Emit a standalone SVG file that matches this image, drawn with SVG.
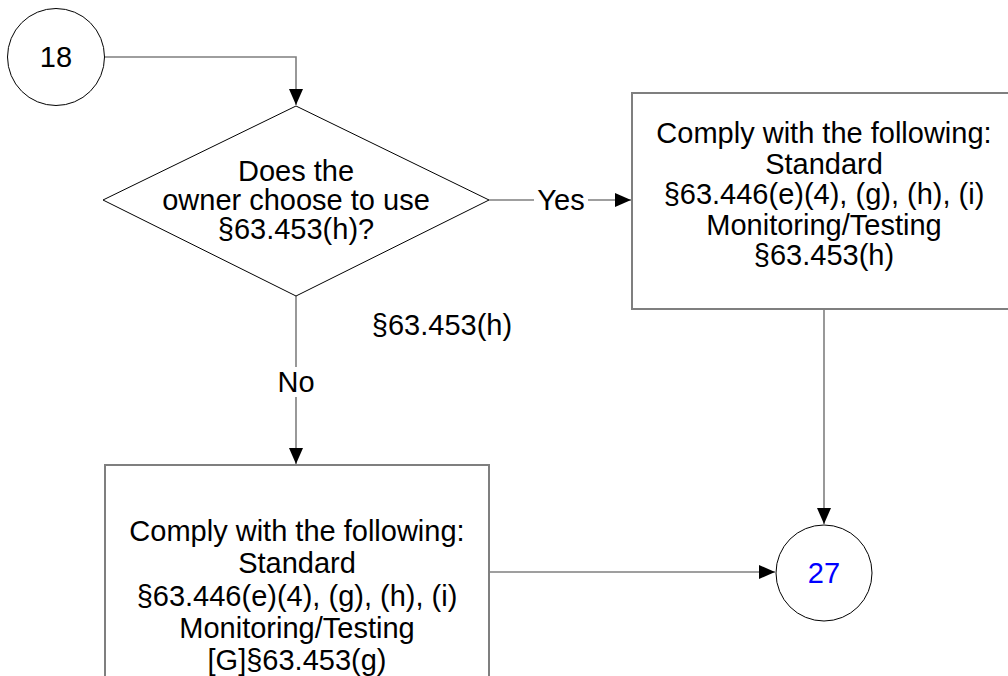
<svg xmlns="http://www.w3.org/2000/svg" width="1008" height="676" viewBox="0 0 1008 676">
<defs>
<marker id="arr" viewBox="0 0 16 14" refX="16" refY="7" markerWidth="16" markerHeight="14" markerUnits="userSpaceOnUse" orient="auto">
<path d="M0,0 L16,7 L0,14 z" fill="#000"/>
</marker>
<style>
text{font-family:"Liberation Sans",Arial,sans-serif;font-size:29px;fill:#000;text-anchor:middle}
.sym{fill:#fff;stroke:#000;stroke-width:1}
.box{fill:#fff;stroke:#7f7f7f;stroke-width:2}
.conn{fill:none;stroke:#7f7f7f;stroke-width:1.6}
.lbl{fill:#fff;stroke:none}
.blue{fill:#0000ff}
</style>
</defs>
<rect width="1008" height="676" fill="#fff"/>
<g id="connectors">
<path class="conn" d="M105,57 H296 V105" marker-end="url(#arr)"/>
<path class="conn" d="M489,200 H631" marker-end="url(#arr)"/>
<path class="conn" d="M296,296 V464" marker-end="url(#arr)"/>
<path class="conn" d="M824,309 V524" marker-end="url(#arr)"/>
<path class="conn" d="M489,572 H775" marker-end="url(#arr)"/>
<rect class="lbl" x="534" y="186" width="54" height="28"/>
<text x="561" y="210">Yes</text>
<rect class="lbl" x="276" y="367" width="40" height="30"/>
<text x="296" y="392">No</text>
</g>
<g id="n18">
<circle class="sym" cx="56" cy="57" r="48.5"/>
<text x="56" y="67">18</text>
</g>
<g id="decision">
<polygon class="sym" points="296,106 489,200 296,296 103,200"/>
<text x="296" y="181">Does the</text>
<text x="296" y="210">owner choose to use</text>
<text x="296" y="239">§63.453(h)?</text>
</g>
<g id="note">
<text x="442" y="335">§63.453(h)</text>
</g>
<g id="yesbox">
<rect class="box" x="632" y="93" width="384" height="216"/>
<text x="824" y="143">Comply with the following:</text>
<text x="824" y="174">Standard</text>
<text x="824" y="204">§63.446(e)(4), (g), (h), (i)</text>
<text x="824" y="235">Monitoring/Testing</text>
<text x="824" y="265">§63.453(h)</text>
</g>
<g id="nobox">
<rect class="box" x="105" y="465" width="384" height="240"/>
<text x="297" y="541">Comply with the following:</text>
<text x="297" y="573">Standard</text>
<text x="297" y="606">§63.446(e)(4), (g), (h), (i)</text>
<text x="297" y="638">Monitoring/Testing</text>
<text x="297" y="670">[G]§63.453(g)</text>
</g>
<g id="n27">
<circle class="sym" cx="824" cy="573" r="48"/>
<text class="blue" x="824" y="583">27</text>
</g>
</svg>
